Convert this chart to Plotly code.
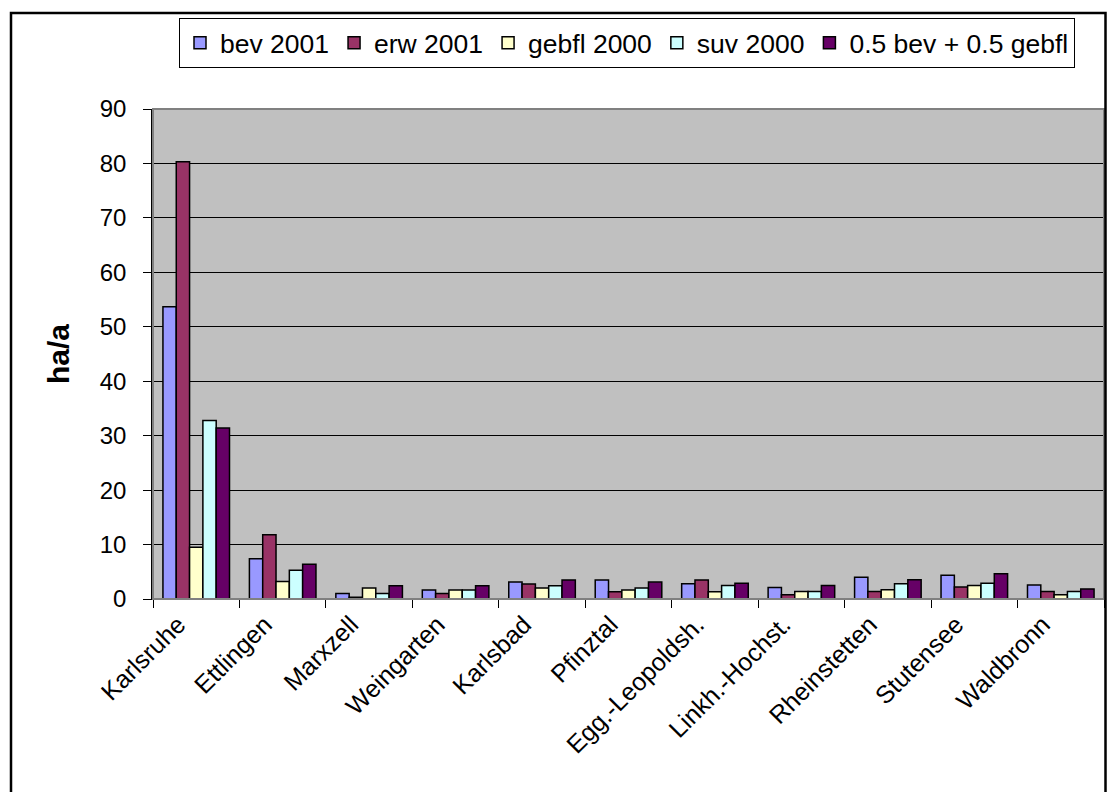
import plotly.graph_objects as go

# Gemeinden im Raum Karlsruhe
gemeinden = ["Karlsruhe", "Ettlingen", "Marxzell", "Weingarten", "Karlsbad",
             "Pfinztal", "Egg.-Leopoldsh.", "Linkh.-Hochst.", "Rheinstetten",
             "Stutensee", "Waldbronn"]

# Flächenwerte in ha/a
bev_2001 = [53.7, 7.4, 1.0, 1.65, 3.1, 3.5, 2.8, 2.1, 4.0, 4.35, 2.55]
erw_2001 = [80.3, 11.8, 0.3, 1.0, 2.75, 1.35, 3.5, 0.8, 1.4, 2.2, 1.4]
gebfl_2000 = [9.5, 3.2, 2.0, 1.65, 2.0, 1.65, 1.35, 1.4, 1.7, 2.5, 0.8]
suv_2000 = [32.8, 5.3, 1.0, 1.65, 2.45, 2.0, 2.5, 1.4, 2.8, 2.9, 1.4]
bev_gebfl = [31.4, 6.4, 2.45, 2.45, 3.5, 3.1, 2.9, 2.5, 3.55, 4.65, 1.85]

series = [
    ("bev 2001", bev_2001, "#9999FF"),
    ("erw 2001", erw_2001, "#993366"),
    ("gebfl 2000", gebfl_2000, "#FFFFCC"),
    ("suv 2000", suv_2000, "#CCFFFF"),
    ("0.5 bev + 0.5 gebfl", bev_gebfl, "#660066"),
]

FONT = "Arial, Liberation Sans, sans-serif"

fig = go.Figure()
for name, vals, col in series:
    fig.add_trace(go.Bar(
        x=gemeinden, y=vals, name=name,
        marker=dict(color=col, line=dict(color="black", width=1.5)),
    ))

W, H = 1109, 792
L, R, T, B = 153, 5, 109, 193
pw = W - L - R
ph = H - T - B


def px_x(x):
    return (x - L) / pw


def px_y(y):
    return (H - B - y) / ph


fig.update_layout(
    width=W, height=H,
    margin=dict(l=L, r=R, t=T, b=B),
    paper_bgcolor="white",
    plot_bgcolor="#C0C0C0",
    barmode="group",
    bargap=0.23,
    bargroupgap=0,
    font=dict(family=FONT, size=24, color="black"),
    showlegend=True,
    legend=dict(
        orientation="h",
        x=px_x(179), y=px_y(18),
        xanchor="left", yanchor="top",
        bgcolor="white", bordercolor="black", borderwidth=1,
        font=dict(family=FONT, size=26.5, color="black"),
        itemwidth=30,
        traceorder="normal",
    ),
    xaxis=dict(
        tickangle=-45,
        ticks="outside", ticklen=8, tickcolor="black", tickwidth=1,
        tickson="boundaries",
        ticklabelshift=-18,
        showline=True, linecolor="black", linewidth=1,
        showgrid=False,
        tickfont=dict(family=FONT, size=25, color="black"),
    ),
    yaxis=dict(
        range=[0, 90], dtick=10,
        ticks="outside", ticklen=8, tickcolor="black", tickwidth=1,
        ticklabelstandoff=12,
        showline=True, linecolor="black", linewidth=1.5,
        showgrid=True, gridcolor="black", gridwidth=1,
        zeroline=False,
        tickfont=dict(family=FONT, size=24, color="black"),
    ),
    annotations=[dict(
        text="<b>ha/a</b>", xref="paper", yref="paper",
        x=px_x(58), y=0.5, showarrow=False, textangle=-90,
        font=dict(family=FONT, size=30, color="black"),
        xanchor="center", yanchor="middle",
    )],
    shapes=[
        # Rahmen der Zeichenfläche
        dict(type="rect", xref="paper", yref="paper", x0=0, x1=1, y0=0, y1=1,
             line=dict(color="#808080", width=2), layer="above"),
        # Diagrammrahmen
        dict(type="rect", xref="paper", yref="paper",
             x0=px_x(11), x1=px_x(1105.5), y0=px_y(840), y1=px_y(13),
             line=dict(color="black", width=2.5)),
    ],
)

fig.write_html("out.html")
